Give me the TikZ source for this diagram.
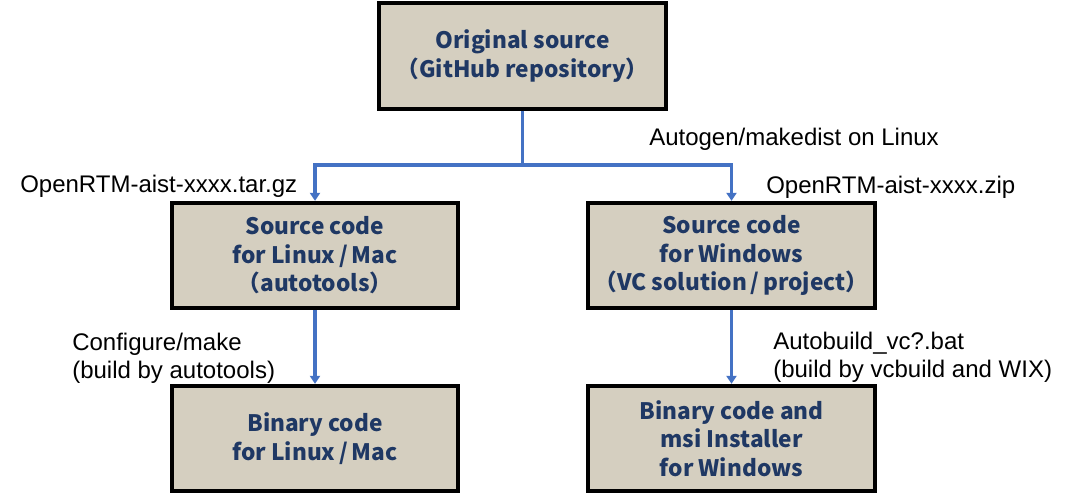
\documentclass[tikz,border=0pt]{standalone}
\usepackage{fontspec}
\usepackage{xcolor}
\setmainfont{Liberation Sans}
\newfontfamily\boxfont{Noto Sans CJK JP}
\usetikzlibrary{arrows.meta}

\definecolor{boxfill}{HTML}{D5CFC0}
\definecolor{boxtext}{HTML}{1F3864}
\definecolor{flow}{HTML}{4472C4}

\begin{document}
\begin{tikzpicture}[x=0.75pt,y=-0.75pt,
    stage/.style={draw=black,line width=3pt,fill=boxfill,text=boxtext,align=center,
        minimum width=215pt,minimum height=79pt,inner sep=0pt,
        font=\boxfont\bfseries\fontsize{17}{21.4}\selectfont},
    lbl/.style={anchor=base west,inner sep=0pt,align=left,font=\fontsize{18}{21}\selectfont},
    flowline/.style={draw=flow,line width=2.6pt},
    flowarrow/.style={flowline,-{Triangle[length=6pt,width=7.5pt]}}]
        % \draw[help lines] grid(1070,497);
        \useasboundingbox (0,0) rectangle (1070,497);

        \node[stage] (orig) at (522.5,56) {Original source\\（GitHub repository）};
        \node[stage] (srclinux) at (315,255.5) {Source code\\for Linux\,/\,Mac\\（autotools）};
        \node[stage] (srcwin) at (731.5,255.5) {Source code\\for Windows\\（VC solution\,/\,project）};
        \node[stage] (binlinux) at (315,438.5) {Binary code\\for Linux\,/\,Mac};
        \node[stage] (binwin) at (731.5,438.5) {Binary code and\\msi Installer\\for Windows};

        \coordinate (split) at (522.5,165);
        \draw[flowline] (orig.south) -- (split);
        \draw[flowarrow] (split) -| (srclinux.north);
        \draw[flowarrow] (split) -| (srcwin.north);
        \draw[flowarrow] (srclinux.south) -- (binlinux.north);
        \draw[flowarrow] (srcwin.south) -- (binwin.north);

        % two-line labels sit on the baseline of their last line
        \node[lbl] (autogen) at (649,145) {Autogen/makedist on Linux};
        \node[lbl] (targz) at (20,192) {OpenRTM-aist-xxxx.tar.gz};
        \node[lbl] (zip) at (766,193) {OpenRTM-aist-xxxx.zip};
        \node[lbl] (configure) at (72,378) {Configure/make\\(build by autotools)};
        \node[lbl] (autobuild) at (773,377) {Autobuild\_vc?.bat\\(build by vcbuild and WIX)};
    \end{tikzpicture}
\end{document}
